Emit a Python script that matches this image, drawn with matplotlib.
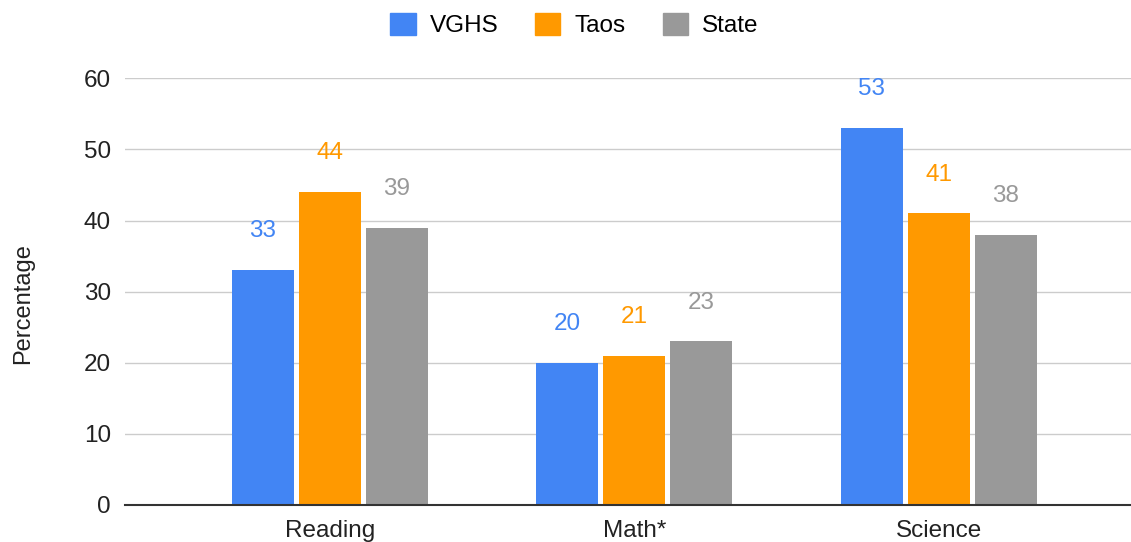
import numpy as np
import matplotlib.pyplot as plt
from matplotlib.patches import Patch

# 数据
categories = ['Reading', 'Math*', 'Science']
series = ['VGHS', 'Taos', 'State']
vghs = [33, 20, 53]
taos = [44, 21, 41]
state = [39, 23, 38]
colors = ['#4285F4', '#FF9900', '#999999']

plt.rcParams['font.family'] = ['Liberation Sans', 'DejaVu Sans']

fig = plt.figure(figsize=(11.31, 5.42), dpi=100)
ax = fig.add_axes([0.1105, 0.0683, 0.8895, 0.7873])

x = np.arange(len(categories))
width = 0.204
step = 0.22
for k, (vals, c) in enumerate(zip([vghs, taos, state], colors)):
    pos = x + (k - 1) * step
    ax.bar(pos, vals, width, color=c, zorder=3)
    # 每个柱子上方显示数值
    for p, v in zip(pos, vals):
        ax.annotate(str(v), (p, v), xytext=(0, 28), textcoords='offset points',
                    ha='center', va='center', fontsize=17.5, color=c, zorder=4)

ax.set_xlim(-0.673, 2.631)
ax.set_ylim(0, 60)
ax.set_yticks(range(0, 61, 10))
ax.set_xticks(x)
ax.set_xticklabels(categories)
ax.tick_params(axis='both', length=0, labelsize=17.5, colors='#222222')
ax.tick_params(axis='x', pad=11)
ax.tick_params(axis='y', pad=10)
ax.grid(axis='y', color='#cccccc', linewidth=1, zorder=0)
for s in ['top', 'right', 'left']:
    ax.spines[s].set_visible(False)
ax.spines['bottom'].set_color('#333333')
ax.spines['bottom'].set_linewidth(1.5)
ax.spines['bottom'].set_zorder(5)
fig.text(0.0205, 0.439, 'Percentage', rotation=90, ha='center', va='center',
         fontsize=17, color='#222222')

handles = [Patch(color=c, label=s) for c, s in zip(colors, series)]
fig.legend(handles=handles, loc='center', bbox_to_anchor=(0.508, 0.954), ncol=3,
           frameon=False, fontsize=17.5, handlelength=1.03, handleheight=1.03,
           columnspacing=1.5, handletextpad=0.6)

fig.savefig('out.png', dpi=100)
